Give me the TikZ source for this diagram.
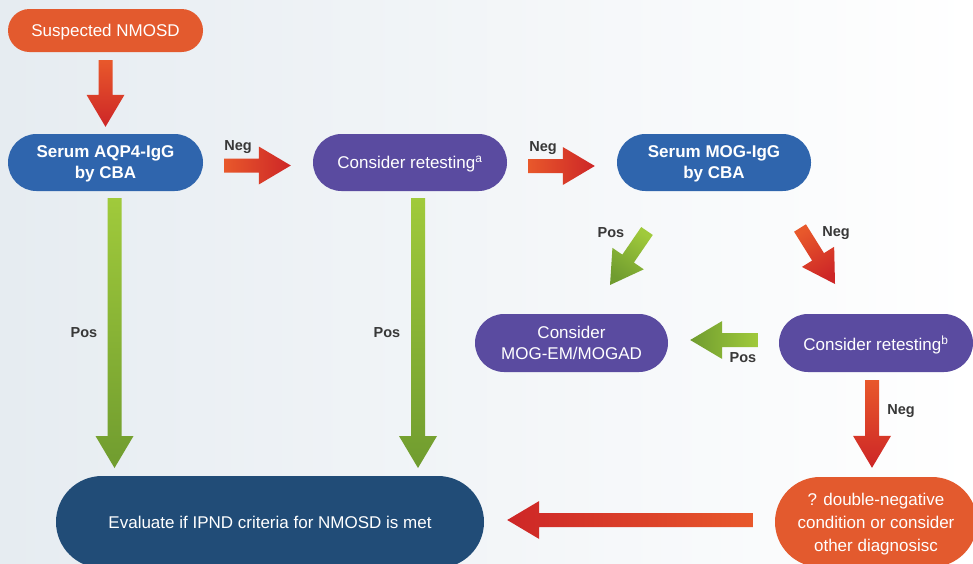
\documentclass[tikz,border=0pt]{standalone}
\usepackage{fontspec}
\setmainfont{Liberation Sans}
\usetikzlibrary{calc}

\definecolor{bgLeft}{HTML}{E6ECF1}
\definecolor{bgMid}{HTML}{FAFBFC}
\definecolor{nodeOrange}{HTML}{E35A2E}
\definecolor{nodeBlue}{HTML}{2F65AD}
\definecolor{nodePurple}{HTML}{5A4BA0}
\definecolor{nodeNavy}{HTML}{214C77}
\definecolor{greenTail}{HTML}{A0CA3B}
\definecolor{greenTip}{HTML}{709C2F}
\definecolor{redTail}{HTML}{E8582B}
\definecolor{redTip}{HTML}{CD2627}
\definecolor{labelGrey}{HTML}{383838}

% shaded block arrow from coordinate #1 to coordinate #2
\newcommand\blockarrow[4]{%
  \pgfpointdiff{\pgfpointanchor{#1}{center}}{\pgfpointanchor{#2}{center}}%
  \pgfgetlastxy{\bax}{\bay}%
  \pgfmathsetmacro\baang{atan2(\bay,\bax)}%
  \pgfmathsetmacro\balen{veclen(\bax,\bay)}%
  \pgfmathsetmacro\bashade{\baang+90}%
  \shade[top color=#3, bottom color=#4, shading angle=\bashade,
         shift={(#1)}, rotate=\baang]
    (0,-7) -- (\balen-32,-7) -- (\balen-32,-19) -- (\balen,0)
    -- (\balen-32,19) -- (\balen-32,7) -- (0,7) -- cycle;
}
\newcommand\greenarrow[2]{\blockarrow{#1}{#2}{greenTail}{greenTip}}
\newcommand\redarrow[2]{\blockarrow{#1}{#2}{redTail}{redTip}}

\tikzset{
  pill/.style={rectangle, text=white, align=center, inner sep=0pt, text depth=0pt,
    minimum width=195pt, minimum height=57pt, rounded corners=28.5pt,
    font=\fontsize{17}{21}\selectfont},
  boldpill/.style={pill, font=\fontsize{17}{21}\selectfont\bfseries},
  lbl/.style={text=labelGrey, inner sep=0pt, font=\fontsize{14.5}{16}\selectfont\bfseries},
}

\begin{document}
\begin{tikzpicture}[x=1pt, y=1pt]
  \useasboundingbox (0,0) rectangle (973,-563);
  \clip (0,0) rectangle (973,-563);
  % backdrop
  \shade[left color=bgLeft, middle color=bgMid, right color=white]
    (0,0) rectangle (973,-563);

  % boxes
  \node[pill, fill=nodeOrange, minimum height=43pt, rounded corners=21.5pt]
    (susp) at (105.5,-30.5) {Suspected NMOSD};
  \node[boldpill, fill=nodeBlue] (aqp) at (105.5,-162.5) {Serum AQP4-IgG\\by CBA};
  \node[pill, fill=nodePurple, minimum width=194pt] (reta) at (410,-162.5)
    {Consider retesting\textsuperscript{a}};
  \node[boldpill, fill=nodeBlue, minimum width=194pt] (mog) at (714,-162.5)
    {Serum MOG-IgG\\by CBA};
  \node[pill, fill=nodePurple, minimum width=193pt, minimum height=58pt, rounded corners=29pt]
    (mogad) at (571.5,-343) {Consider\\MOG-EM/MOGAD};
  \node[pill, fill=nodePurple, minimum width=194pt, minimum height=58pt, rounded corners=29pt]
    (retb) at (876,-343) {Consider retesting\textsuperscript{b}};
  \node[pill, fill=nodeNavy, minimum width=428pt, minimum height=92pt, rounded corners=46pt]
    (eval) at (270,-522) {Evaluate if IPND criteria for NMOSD is met};
  \node[pill, fill=nodeOrange, minimum width=202pt, minimum height=90pt, rounded corners=45pt,
        font=\fontsize{17}{23}\selectfont]
    (dneg) at (876,-522) {? double-negative\\condition or consider\\other diagnosisc};

  % arrow ends
  \coordinate (a1s) at ($(susp.south)+(0,-8)$);
  \coordinate (a1e) at ($(aqp.north)+(0,7)$);
  \coordinate (a2s) at ($(aqp.east)+(21,-3)$);
  \coordinate (a2e) at ($(reta.west)+(-22,-3)$);
  \coordinate (a3s) at ($(reta.east)+(21,-3.5)$);
  \coordinate (a3e) at ($(mog.west)+(-22,-3.5)$);
  \coordinate (a4s) at ($(aqp.south)+(9,-7)$);
  \coordinate (a4e) at (114.5,-468);
  \coordinate (a5s) at ($(reta.south)+(8,-7)$);
  \coordinate (a5e) at (418,-468);
  \coordinate (a6s) at (647,-231);
  \coordinate (a6e) at (610,-285);
  \coordinate (a7s) at (800,-228);
  \coordinate (a7e) at (835,-284);
  \coordinate (a8s) at ($(retb.west)+(-21,3)$);
  \coordinate (a8e) at ($(mogad.east)+(22,3)$);
  \coordinate (a9s) at ($(retb.south)+(-4,-8)$);
  \coordinate (a9e) at ($(dneg.north)+(-4,9)$);
  \coordinate (a10s) at ($(dneg.west)+(-22,2)$);
  \coordinate (a10e) at ($(eval.east)+(23,2)$);

  % connectors
  \redarrow{a1s}{a1e}
  \redarrow{a2s}{a2e}
  \redarrow{a3s}{a3e}
  \greenarrow{a4s}{a4e}
  \greenarrow{a5s}{a5e}
  \greenarrow{a6s}{a6e}
  \redarrow{a7s}{a7e}
  \greenarrow{a8s}{a8e}
  \redarrow{a9s}{a9e}
  \redarrow{a10s}{a10e}

  % connector labels
  \node[lbl] (l2) at (238,-147) {Neg};
  \node[lbl] (l3) at (543,-148) {Neg};
  \node[lbl] (l4) at (84,-333) {Pos};
  \node[lbl] (l5) at (387,-333) {Pos};
  \node[lbl] (l6) at (611,-233) {Pos};
  \node[lbl] (l7) at (836,-233) {Neg};
  \node[lbl] (l8) at (743,-358) {Pos};
  \node[lbl] (l9) at (901,-411) {Neg};
\end{tikzpicture}
\end{document}
